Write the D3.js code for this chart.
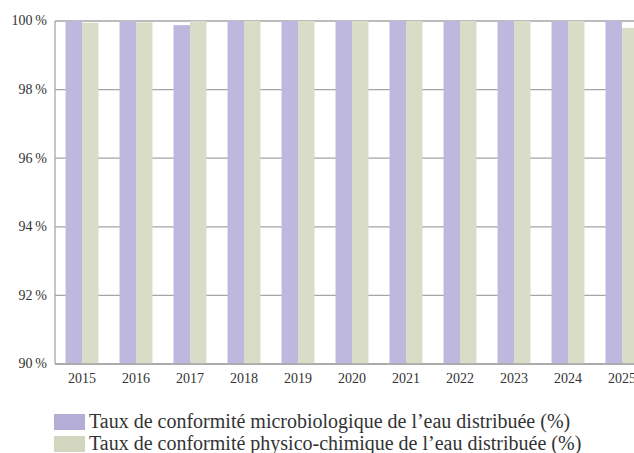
<!DOCTYPE html>
<html>
<head>
<meta charset="utf-8">
<script src="https://cdn.jsdelivr.net/npm/d3@7"></script>
<style>
  body { margin: 0; background: #fff; }
</style>
</head>
<body>
<div id="chart"></div>
<script>
var years = ["2015", "2016", "2017", "2018", "2019", "2020", "2021", "2022", "2023", "2024", "2025"];
var microValues = [100, 100, 99.88, 100, 100, 100, 100, 100, 100, 100, 100];
var physicoValues = [99.95, 99.96, 100, 100, 100, 100, 100, 100, 100, 100, 99.8];
var seriesNames = [
    "Taux de conformité microbiologique de l\u2019eau distribuée (%)",
    "Taux de conformité physico-chimique de l\u2019eau distribuée (%)"
];
var seriesColors = ["#bfb8de", "#d9dcc7"];
var legendColors = ["#b4aed6", "#d3d6bf"];
var yTicks = [90, 92, 94, 96, 98, 100];

var FONT = "Liberation Serif";

function drawChart() {

    var width = 634;
    var height = 453;

    var margin = { top: 21, left: 55, bottom: 89 };
    var bandWidth = 54;

    var svg = d3.select("#chart").append("svg")
        .attr("width", width)
        .attr("height", height);

    var x = d3.scaleBand()
        .domain(years)
        .range([margin.left, margin.left + bandWidth * years.length])
        .paddingInner(0.39)
        .paddingOuter(0.195);

    var y = d3.scaleLinear()
        .domain([90, 100])
        .range([height - margin.bottom, margin.top]);

    // grid lines
    svg.append("g").selectAll("line")
        .data(yTicks)
        .join("line")
        .attr("x1", margin.left)
        .attr("x2", width)
        .attr("y1", function(d) { return y(d); })
        .attr("y2", function(d) { return y(d); })
        .attr("stroke", "#a6a6a6")
        .attr("stroke-width", 1.3);

    var half = x.bandwidth() / 2;

    var groups = svg.append("g").selectAll("g")
        .data(years)
        .join("g")
        .attr("transform", function(d) { return "translate(" + x(d) + ",0)"; });

    groups.append("rect")
        .attr("x", 0)
        .attr("width", half)
        .attr("y", function(d, i) { return y(microValues[i]); })
        .attr("height", function(d, i) { return y(90) - y(microValues[i]); })
        .attr("fill", seriesColors[0]);

    groups.append("rect")
        .attr("x", half)
        .attr("width", half)
        .attr("y", function(d, i) { return y(physicoValues[i]); })
        .attr("height", function(d, i) { return y(90) - y(physicoValues[i]); })
        .attr("fill", seriesColors[1]);

    // axis lines
    svg.append("line")
        .attr("x1", margin.left).attr("x2", margin.left)
        .attr("y1", y(100)).attr("y2", y(90))
        .attr("stroke", "#a6a6a6").attr("stroke-width", 1.3);
    svg.append("line")
        .attr("x1", margin.left).attr("x2", width)
        .attr("y1", y(90)).attr("y2", y(90))
        .attr("stroke", "#a6a6a6").attr("stroke-width", 1.3);

    // y labels
    svg.append("g").selectAll("text")
        .data(yTicks)
        .join("text")
        .attr("x", 47)
        .attr("y", function(d) { return y(d); })
        .attr("dy", "0.32em")
        .attr("text-anchor", "end")
        .attr("fill", "#333")
        .attr("font-family", FONT)
        .attr("font-size", 14)
        .text(function(d) { return d + "\u202f%"; });

    // x labels
    svg.append("g").selectAll("text")
        .data(years)
        .join("text")
        .attr("x", function(d) { return x(d) + half; })
        .attr("y", y(90) + 19)
        .attr("text-anchor", "middle")
        .attr("fill", "#333")
        .attr("font-family", FONT)
        .attr("font-size", 14)
        .text(function(d) { return d; });

    // legend
    var legend = svg.append("g").selectAll("g")
        .data(seriesNames)
        .join("g")
        .attr("transform", function(d, i) { return "translate(54," + (414 + i * 22) + ")"; });

    legend.append("rect")
        .attr("width", 31)
        .attr("height", 16)
        .attr("fill", function(d, i) { return legendColors[i]; });

    legend.append("text")
        .attr("x", 35)
        .attr("y", 14)
        .attr("fill", "#333")
        .attr("font-family", FONT)
        .attr("font-size", 20)
        .text(function(d) { return d; });
}

drawChart();
</script>
</body>
</html>
